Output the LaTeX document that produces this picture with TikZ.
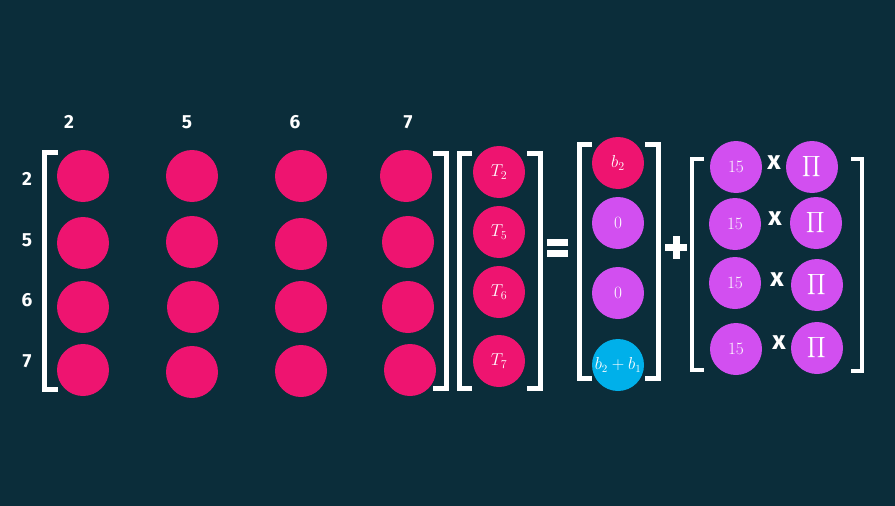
\documentclass[tikz,border=0pt]{standalone}
\usepackage{amsmath}
\usepackage{fontspec}
\setsansfont{Fira Sans}
\definecolor{bg}{HTML}{0B2D3A}
\definecolor{pinkc}{HTML}{EE1470}
\definecolor{purpc}{HTML}{D24FF0}
\definecolor{cyanc}{HTML}{00B0EA}
\begin{document}
\begin{tikzpicture}[x=1pt,y=-1pt,
  dot/.style={circle,fill=#1,minimum size=52pt,inner sep=0pt,text=white,font=\fontsize{17}{17}\selectfont},
  lbl/.style={text=white,font=\sffamily\bfseries\fontsize{19}{19}\selectfont},
  brk/.style={draw=white,line width=5pt,line join=miter},
  op/.style={text=white,font=\sffamily\bfseries\fontsize{26}{26}\selectfont},
  pi/.style={font=\fontsize{15}{15}\selectfont}]
\fill[bg] (0,0) rectangle (895,506);
\useasboundingbox (0,0) rectangle (895,506);
% column labels
\node[lbl] (c1) at (69,122) {2};
\node[lbl] (c2) at (187,122) {5};
\node[lbl] (c3) at (295,122) {6};
\node[lbl] (c4) at (408,122) {7};
% row labels
\node[lbl] (r1) at (27,179) {2};
\node[lbl] (r2) at (27,240) {5};
\node[lbl] (r3) at (27,300) {6};
\node[lbl] (r4) at (27,361) {7};
% left matrix
\draw[brk] (58,152) -- (44,152) -- (44,389) -- (58,389);
\draw[brk] (433,153) -- (446,153) -- (446,388) -- (433,388);
\node[dot=pinkc] (a11) at (83,176) {};
\node[dot=pinkc] (a12) at (192,176) {};
\node[dot=pinkc] (a13) at (301,176) {};
\node[dot=pinkc] (a14) at (406,176) {};
\node[dot=pinkc] (a21) at (83,243) {};
\node[dot=pinkc] (a22) at (192,242) {};
\node[dot=pinkc] (a23) at (301,244) {};
\node[dot=pinkc] (a24) at (408,242) {};
\node[dot=pinkc] (a31) at (83,307) {};
\node[dot=pinkc] (a32) at (193,307) {};
\node[dot=pinkc] (a33) at (301,307) {};
\node[dot=pinkc] (a34) at (408,307) {};
\node[dot=pinkc] (a41) at (83,370) {};
\node[dot=pinkc] (a42) at (192,372) {};
\node[dot=pinkc] (a43) at (301,371) {};
\node[dot=pinkc] (a44) at (410,370) {};
% T vector
\draw[brk] (472,153) -- (459,153) -- (459,388) -- (472,388);
\draw[brk] (527,153) -- (540,153) -- (540,388) -- (527,388);
\node[dot=pinkc] (t1) at (499,172) {$T_2$};
\node[dot=pinkc] (t2) at (499,232) {$T_5$};
\node[dot=pinkc] (t3) at (499,292) {$T_6$};
\node[dot=pinkc] (t4) at (499,361) {$T_7$};
% equals
\fill[white] (547,239) rectangle (568,246);
\fill[white] (547,250) rectangle (568,257);
\coordinate (eq) at (557,248);
% b vector
\draw[brk] (592,144) -- (579,144) -- (579,378) -- (592,378);
\draw[brk] (645,144) -- (658,144) -- (658,378) -- (645,378);
\node[dot=pinkc] (b1) at (618,163) {$b_2$};
\node[dot=purpc] (b2) at (618,223) {$0$};
\node[dot=purpc] (b3) at (618,293) {$0$};
\node[dot=cyanc,font=\fontsize{16}{16}\selectfont] (b4) at (618,365) {$b_2+b_1$};
% plus
\fill[white] (665,244) rectangle (687,251);
\fill[white] (672.5,236) rectangle (679.5,259);
\coordinate (pl) at (676,247);
% last matrix
\draw[brk,line width=4pt] (704,159) -- (692,159) -- (692,370) -- (704,370);
\draw[brk,line width=4pt] (851,159) -- (862,159) -- (862,371) -- (851,371);
\node[dot=purpc] (f1) at (736,167) {$15$};
\node[dot=purpc] (f2) at (735,224) {$15$};
\node[dot=purpc] (f3) at (735,283) {$15$};
\node[dot=purpc] (f4) at (736,349) {$15$};
\node[dot=purpc,pi] (p1) at (812,167) {$\displaystyle\prod$};
\node[dot=purpc,pi] (p2) at (816,223) {$\displaystyle\prod$};
\node[dot=purpc,pi] (p3) at (817,285) {$\displaystyle\prod$};
\node[dot=purpc,pi] (p4) at (817,348) {$\displaystyle\prod$};
\node[op] (x1) at (774,163) {x};
\node[op] (x2) at (775,219) {x};
\node[op] (x3) at (777,280) {x};
\node[op] (x4) at (779,343) {x};
\end{tikzpicture}
\end{document}
